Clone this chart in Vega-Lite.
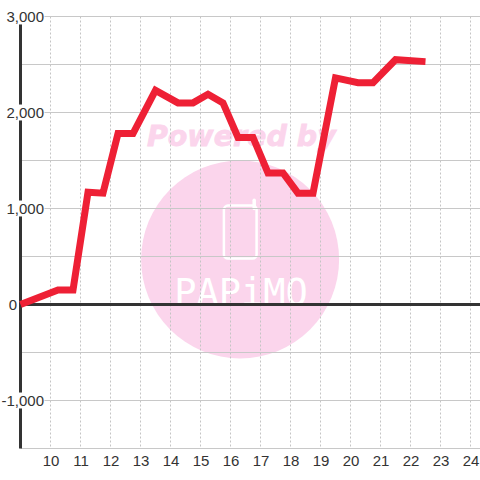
{"$schema":"https://vega.github.io/schema/vega-lite/v6.json","width":460,"height":432,"autosize":"none","padding":{"left":20.5,"top":16.5,"right":0,"bottom":31.5},"background":"#ffffff","config":{"view":{"stroke":null},"font":"Liberation Sans"},"resolve":{"axis":{"x":"independent","y":"independent"}},"layer":[
{"data":{"values":[{"h":16.32,"v":469}]},"mark":{"type":"point","filled":true,"color":"#fbd5ec","opacity":1,"size":39204,"clip":false},"encoding":{"x":{"field":"h","type":"quantitative","scale":{"domain":[9,24.3333],"nice":false,"zero":false},"axis":null},"y":{"field":"v","type":"quantitative","scale":{"domain":[-1500,3000],"nice":false,"zero":false},"axis":null}}},
{"data":{"values":[{"h":16.36,"v":1650,"t":"Powered by"}]},"mark":{"type":"text","font":"DejaVu Sans","fontWeight":"bold","fontStyle":"italic","fontSize":28.5,"color":"#fbd5ec","stroke":"#fbd5ec","strokeWidth":0.8,"align":"center","baseline":"alphabetic"},"encoding":{"x":{"field":"h","type":"quantitative","axis":null},"y":{"field":"v","type":"quantitative","axis":null},"text":{"field":"t"}}},
{"data":{"values":[{"h":16.35,"v":0,"t":"PAPiMO"}]},"mark":{"type":"text","font":"DejaVu Sans Mono","fontSize":37,"color":"#ffffff","align":"center","baseline":"alphabetic"},"encoding":{"x":{"field":"h","type":"quantitative","axis":null},"y":{"field":"v","type":"quantitative","axis":null},"text":{"field":"t"}}},
{"data":{"values":[{"h":15.78,"h2":16.87,"v":480,"v2":1030}]},"mark":{"type":"rect","fill":null,"stroke":"#ffffff","strokeWidth":2.5,"cornerRadius":4},"encoding":{"x":{"field":"h","type":"quantitative","axis":null},"x2":{"field":"h2"},"y":{"field":"v","type":"quantitative","axis":null},"y2":{"field":"v2"}}},
{"data":{"values":[{"h":16.79,"v":1000,"v2":1085}]},"mark":{"type":"rule","color":"#ffffff","strokeWidth":3.5,"strokeCap":"round"},"encoding":{"x":{"field":"h","type":"quantitative","axis":null},"y":{"field":"v","type":"quantitative","axis":null},"y2":{"field":"v2"}}},
{"data":{"values":[{"h":10},{"h":11},{"h":12},{"h":13},{"h":14},{"h":15},{"h":16},{"h":17},{"h":18},{"h":19},{"h":20},{"h":21},{"h":22},{"h":23},{"h":24}]},"mark":{"type":"rule","color":"#c4c4c4","strokeWidth":1,"strokeDash":[2,2]},"encoding":{"x":{"field":"h","type":"quantitative","axis":null}}},
{"data":{"values":[{"v":-1500},{"v":-1000},{"v":-500},{"v":500},{"v":1000},{"v":1500},{"v":2000},{"v":2500},{"v":3000}]},"mark":{"type":"rule","color":"#c8c8c8","strokeWidth":1},"encoding":{"y":{"field":"v","type":"quantitative","axis":null}}},
{"data":{"values":[{"h":9,"v":-1500,"v2":3000}]},"mark":{"type":"rule","color":"#333333","strokeWidth":3},"encoding":{"x":{"field":"h","type":"quantitative","axis":null},"y":{"field":"v","type":"quantitative","axis":null},"y2":{"field":"v2"}}},
{"data":{"values":[{"v":0}]},"mark":{"type":"rule","color":"#333333","strokeWidth":3},"encoding":{"y":{"field":"v","type":"quantitative","axis":{"orient":"left","title":null,"values":[0],"grid":false,"domain":false,"ticks":false,"labelFontSize":15,"labelColor":"#333333","labelPadding":4,"labelAlign":"right","labelFont":"Liberation Sans","labelOverlap":false,"labelFlush":false,"labelBound":false,"zindex":1,"format":"d"}}}},
{"data":{"values":[{"h":8.9,"h2":9.8,"v":2917,"v2":3083},{"h":8.9,"h2":9.8,"v":1917,"v2":2083},{"h":8.9,"h2":9.8,"v":917,"v2":1083},{"h":8.9,"h2":9.8,"v":-1083,"v2":-917}]},"mark":{"type":"rect","fill":"#ffffff","clip":false},"encoding":{"x":{"field":"h","type":"quantitative","axis":null},"x2":{"field":"h2"},"y":{"field":"v","type":"quantitative","axis":null},"y2":{"field":"v2"}}},
{"data":{"values":[{"h":9,"v":0},{"h":10.25,"v":150},{"h":10.75,"v":150},{"h":11.25,"v":1170},{"h":11.75,"v":1160},{"h":12.25,"v":1780},{"h":12.75,"v":1780},{"h":13.5,"v":2230},{"h":14.25,"v":2100},{"h":14.75,"v":2100},{"h":15.25,"v":2190},{"h":15.75,"v":2100},{"h":16.25,"v":1740},{"h":16.75,"v":1740},{"h":17.25,"v":1370},{"h":17.75,"v":1370},{"h":18.25,"v":1160},{"h":18.75,"v":1160},{"h":19.5,"v":2360},{"h":20.25,"v":2310},{"h":20.75,"v":2310},{"h":21.5,"v":2550},{"h":22.5,"v":2530}]},"mark":{"type":"line","color":"#ee2035","strokeWidth":7,"strokeJoin":"miter","strokeCap":"butt"},"encoding":{"x":{"field":"h","type":"quantitative","axis":{"title":null,"values":[10,11,12,13,14,15,16,17,18,19,20,21,22,23,24],"grid":false,"domain":false,"ticks":false,"labelFontSize":15,"labelColor":"#333333","labelPadding":5,"labelFont":"Liberation Sans","labelOverlap":false,"labelFlush":false,"labelBound":false,"zindex":1,"format":"d"}},"y":{"field":"v","type":"quantitative","axis":{"orient":"left","title":null,"values":[-1000,1000,2000,3000],"grid":false,"domain":false,"ticks":false,"labelFontSize":15,"labelColor":"#333333","labelPadding":-23,"labelAlign":"right","labelFont":"Liberation Sans","labelOverlap":false,"labelFlush":false,"labelBound":false,"zindex":1,"format":",.0f","labelExpr":"datum.value<0?'-1,000':datum.label"}}}}
]}
